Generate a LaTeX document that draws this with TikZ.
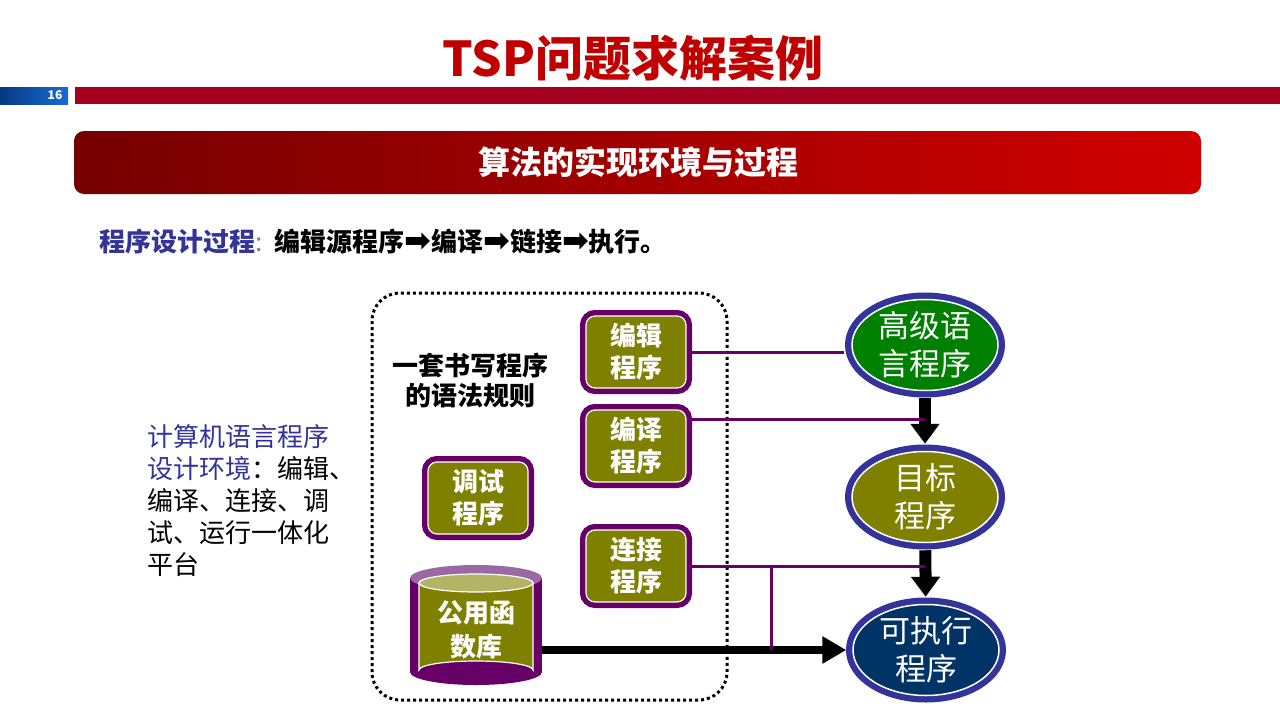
\documentclass[tikz,border=0pt]{standalone}
\usepackage{fontspec}
\setmainfont{Noto Sans CJK SC}
\newfontfamily\arrowfont{DejaVu Sans}
\usepackage{xcolor}
\usetikzlibrary{arrows.meta,positioning,shapes.geometric}
\definecolor{SlideTitleRed}{RGB}{192,0,0}
\definecolor{SlideBarRed}{RGB}{165,0,33}
\definecolor{SlideBarBlueDark}{RGB}{8,56,130}
\definecolor{SlideBarBlueLight}{RGB}{22,108,214}
\definecolor{SlideBannerDark}{RGB}{118,0,0}
\definecolor{SlideBannerLight}{RGB}{208,0,0}
\definecolor{SlideTextBlue}{RGB}{51,51,153}
\definecolor{DiagramPurple}{RGB}{102,0,102}
\definecolor{DiagramPurpleTop}{RGB}{156,104,164}
\definecolor{DiagramOlive}{RGB}{128,128,0}
\definecolor{DiagramOliveTop}{RGB}{180,180,102}
\definecolor{DiagramNavy}{RGB}{51,51,153}
\definecolor{DiagramGreen}{RGB}{0,128,0}
\definecolor{DiagramDeepBlue}{RGB}{0,51,102}
\newcommand{\steparrow}{{\arrowfont\fontsize{32pt}{32pt}\selectfont ➡}}

\begin{document}
\begin{tikzpicture}[x=1pt,y=-1pt,
  progbox/.style={rectangle, rounded corners=9pt, fill=DiagramOlive, draw=white,
    line width=1.2pt, preaction={draw=DiagramPurple, line width=12pt},
    minimum width=100pt, minimum height=72pt, inner sep=0pt, text=white,
    align=center, font=\bfseries\fontsize{26pt}{32pt}\selectfont},
  progell/.style={ellipse, draw=white, line width=1.5pt,
    preaction={draw=DiagramNavy, line width=14pt},
    minimum width=146pt, minimum height=91pt, inner sep=0pt},
  elltext/.style={text=white, align=center, inner sep=0pt,
    font=\fontsize{31pt}{38pt}\selectfont},
  wire/.style={draw=DiagramPurple, line width=3pt},
  bigarrow/.style={draw=black, line width=12pt, -{Triangle[length=20pt,width=28pt]},
    shorten <=7pt, shorten >=7pt},
  libarrow/.style={draw=black, line width=8pt, -{Triangle[length=24pt,width=26pt]},
    shorten >=6pt}
]
\useasboundingbox[fill=white] (0,0) rectangle (1280,720);

% header
\node[text=SlideTitleRed, font=\bfseries\fontsize{48pt}{48pt}\selectfont] (title) at (633,58) {TSP问题求解案例};
\shade[left color=SlideBarBlueDark, right color=SlideBarBlueLight] (0,87) rectangle (68,104);
\node[text=white, font=\bfseries\fontsize{12pt}{12pt}\selectfont, inner sep=0pt] (pagenum) at (55,95.5) {16};
\fill[SlideBarRed] (75,87) rectangle (1280,104);

\shade[left color=SlideBannerDark, right color=SlideBannerLight, rounded corners=10pt] (74,131) rectangle (1201,194);
\node[text=white, font=\bfseries\fontsize{32pt}{32pt}\selectfont] (banner) at (638,162) {算法的实现环境与过程};

\node[anchor=west, inner sep=0pt, font=\bfseries\fontsize{26pt}{26pt}\selectfont] (process) at (99,242)
  {\textcolor{SlideTextBlue}{程序设计过程}\textcolor{gray}{\mdseries:}\hspace{12pt}编辑源程序\steparrow 编译\steparrow 链接\steparrow 执行。};

\node[anchor=north west, inner sep=0pt, align=left, font=\fontsize{26pt}{32pt}\selectfont] (platform) at (147,424)
  {\textcolor{SlideTextBlue}{计算机语言程序}\\\textcolor{SlideTextBlue}{设计环境}：编辑、\\编译、连接、调\\试、运行一体化\\平台};

% environment frame
\draw[line width=3pt, dash pattern=on 3pt off 3pt, rounded corners=28pt] (372,293) rectangle (727,700);
\node[align=center, inner sep=0pt, font=\bfseries\fontsize{26pt}{30pt}\selectfont] (rules) at (470,380) {一套书写程序\\的语法规则};

\node[progbox] (edit) at (636,352) {编辑\\程序};
\node[progbox] (comp) at (636,446) {编译\\程序};
\node[progbox] (debug) at (478,498) {调试\\程序};
\node[progbox] (link) at (636,566) {连接\\程序};

% library cylinder
\fill[DiagramPurple] (410,578) rectangle (542,672);
\fill[DiagramPurple] (476,672) ellipse (66pt and 13pt);
\fill[DiagramPurpleTop] (476,578) ellipse (66pt and 13pt);
\filldraw[fill=DiagramOlive, draw=white, line width=1.2pt] (419,583) -- (419,670) arc[start angle=180, end angle=360, x radius=57pt, y radius=-9pt] -- (533,583) -- cycle;
\filldraw[fill=DiagramOliveTop, draw=white, line width=1.2pt] (476,583) ellipse (57pt and 9pt);
\node[minimum width=132pt, minimum height=114pt, inner sep=0pt, text=white, align=center,
  font=\bfseries\fontsize{26pt}{34pt}\selectfont] (lib) at (476,630) {公用函\\数库};

% program stages
\node[progell, fill=DiagramGreen, label={[elltext]center:高级语\\言程序}] (src) at (925,345) {};
\node[progell, fill=DiagramOlive, label={[elltext]center:目标\\程序}] (obj) at (925,497) {};
\node[progell, fill=DiagramDeepBlue, label={[elltext]center:可执行\\程序}] (exe) at (926,650) {};

\draw[bigarrow] (src) -- (obj);
\draw[bigarrow] (obj) -- (exe);
\draw[libarrow] (exe.west -| lib.east) -- (exe.west);

\draw[wire] (edit.east) -- ([xshift=-7pt]edit.east -| src.west);
\draw[wire] ([yshift=27pt]comp.east) -- ([yshift=27pt]comp.east -| src.south);
\draw[wire] (link.east) -- (link.east -| obj.south);
\coordinate (linkjoin) at ([xshift=85pt]link.east);
\draw[wire] (linkjoin) -- (linkjoin |- exe.west);
\end{tikzpicture}
\end{document}
